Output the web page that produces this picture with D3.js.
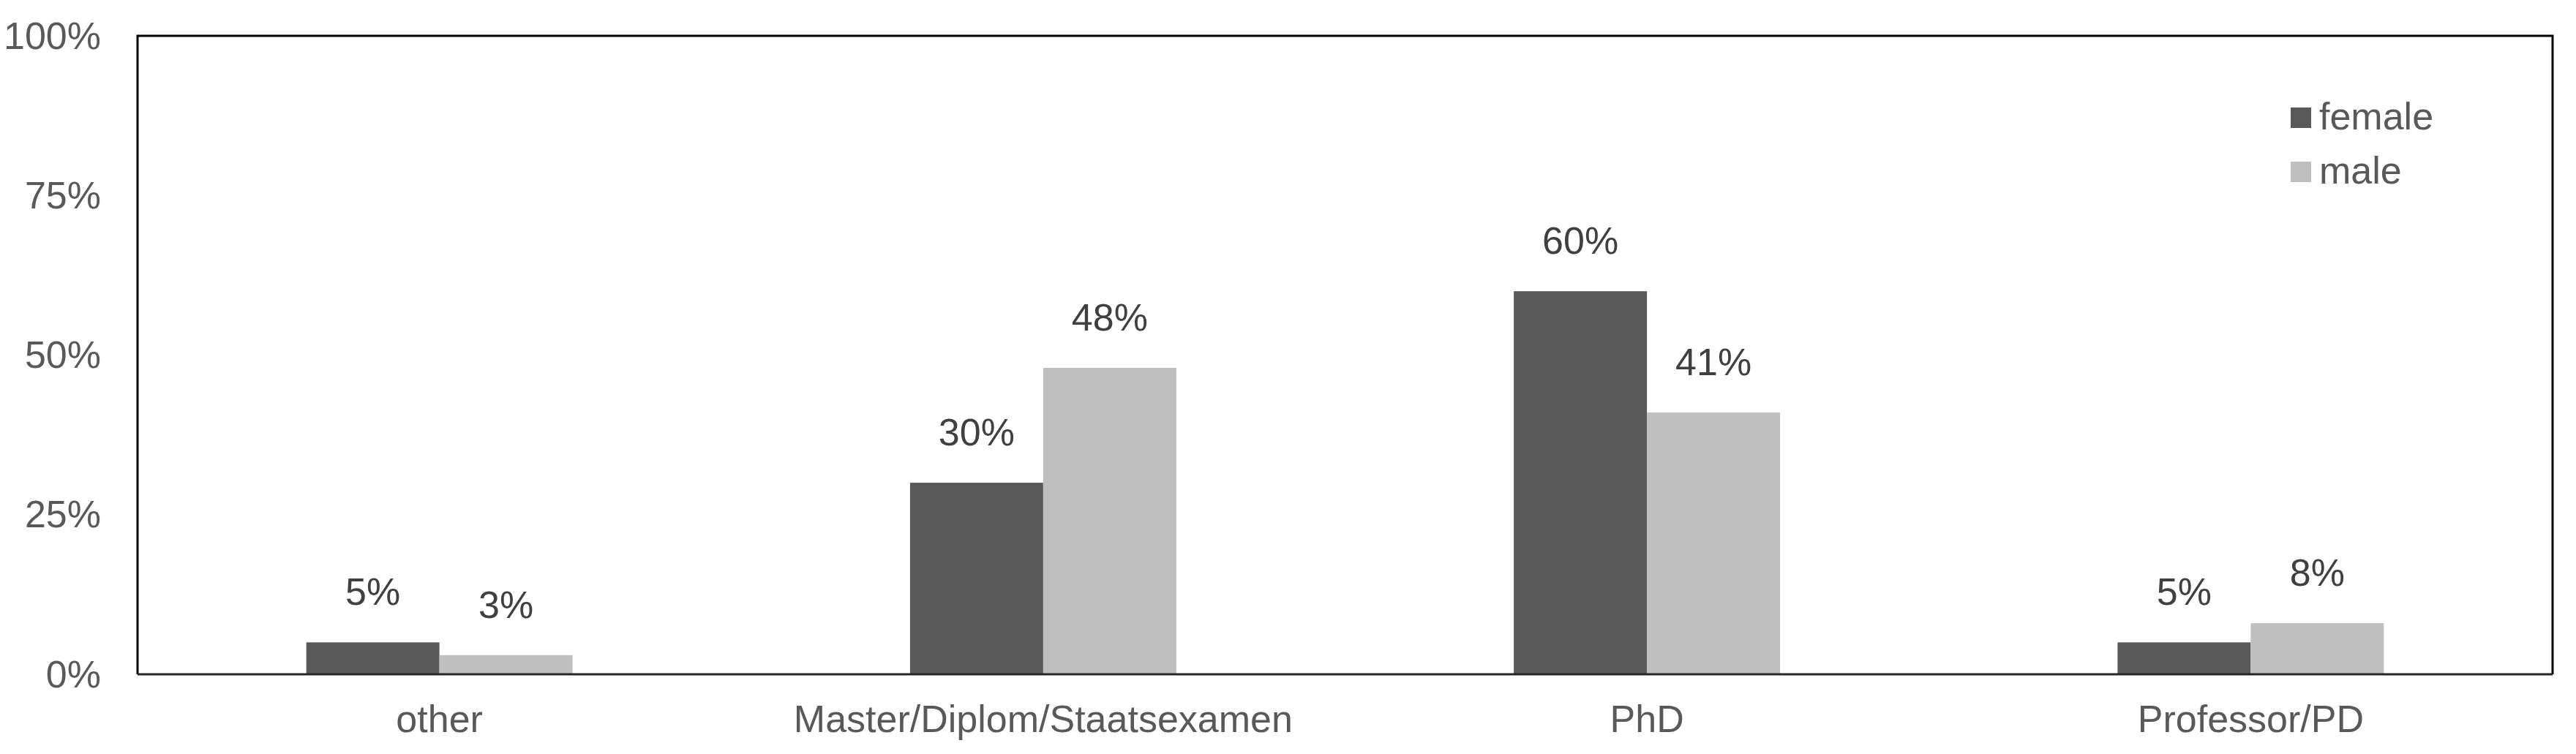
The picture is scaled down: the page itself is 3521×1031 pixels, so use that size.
<!DOCTYPE html>
<html>
<head>
<meta charset="utf-8">
<script src="https://cdn.jsdelivr.net/npm/d3@7"></script>
<style>
  body { margin: 0; background: #fff; }
  text { font-family: "Liberation Sans", Arial, sans-serif; }
</style>
</head>
<body>
<div id="chart"></div>
<script>
// data
const categories = ["other", "Master/Diplom/Staatsexamen", "PhD", "Professor/PD"];
const seriesNames = ["female", "male"];
const female = [0.05, 0.30, 0.60, 0.05];
const male = [0.03, 0.48, 0.41, 0.08];
const yTicks = [0, 0.25, 0.5, 0.75, 1];

const colors = { female: "#595959", male: "#bfbfbf" };

const W = 3521, H = 1031;
const margin = { top: 49, right: 32, bottom: 109, left: 188 };
const width = W - margin.left - margin.right,
      height = H - margin.top - margin.bottom;

const svg = d3.select("#chart")
  .append("svg")
    .attr("width", W)
    .attr("height", H);

const g = svg.append("g")
    .attr("transform", `translate(${margin.left},${margin.top})`);

const rows = categories.map((c, i) => ({ cat: c, female: female[i], male: male[i] }));

const x0 = d3.scaleBand()
  .domain(categories)
  .range([0, width])
  .padding(0);

// bars of a group take ~44% of the band
const groupW = x0.bandwidth() * 0.441;
const x1 = d3.scaleBand()
  .domain(seriesNames)
  .range([(x0.bandwidth() - groupW) / 2, (x0.bandwidth() + groupW) / 2]);

const y = d3.scaleLinear()
  .domain([0, 1])
  .range([height, 0]);

// y axis labels
const yAxis = g.append("g")
  .call(d3.axisLeft(y).tickValues(yTicks).tickFormat(d3.format(".0%")).tickSize(0).tickPadding(50));
yAxis.select(".domain").remove();
yAxis.selectAll("text")
  .attr("font-size", 52)
  .attr("fill", "#595959")
  .attr("dy", "0.33em")
  .style("font-family", "'Liberation Sans', Arial, sans-serif");

// x axis labels
const xAxis = g.append("g")
  .attr("transform", `translate(0,${height})`)
  .call(d3.axisBottom(x0).tickSize(0).tickPadding(42));
xAxis.select(".domain").remove();
xAxis.selectAll("text")
  .attr("font-size", 52)
  .attr("fill", "#595959")
  .attr("dy", "0.71em")
  .style("font-family", "'Liberation Sans', Arial, sans-serif");

// bars
const groups = g.selectAll(".grp")
  .data(rows)
  .join("g")
    .attr("class", "grp")
    .attr("transform", d => `translate(${x0(d.cat)},0)`);

groups.selectAll("rect")
  .data(d => seriesNames.map(s => ({ key: s, value: d[s] })))
  .join("rect")
    .attr("x", d => x1(d.key))
    .attr("y", d => y(d.value))
    .attr("width", x1.bandwidth())
    .attr("height", d => height - y(d.value))
    .attr("fill", d => colors[d.key]);

groups.selectAll(".lbl")
  .data(d => seriesNames.map(s => ({ key: s, value: d[s] })))
  .join("text")
    .attr("class", "lbl")
    .attr("x", d => x1(d.key) + x1.bandwidth() / 2)
    .attr("y", d => y(d.value) - 51)
    .attr("text-anchor", "middle")
    .attr("font-size", 52)
    .attr("fill", "#404040")
    .text(d => d3.format(".0%")(d.value));

// frame
g.append("path")
  .attr("d", `M0,${height}V0H${width}V${height}`)
  .attr("fill", "none")
  .attr("stroke", "#000")
  .attr("stroke-width", 3);
g.append("line")
  .attr("x1", 0).attr("x2", width)
  .attr("y1", height).attr("y2", height)
  .attr("stroke", "#262626")
  .attr("stroke-width", 3);

// legend
const legend = svg.append("g")
  .attr("transform", "translate(3131,147)");
const li = legend.selectAll("g")
  .data(seriesNames)
  .join("g")
    .attr("transform", (d, i) => `translate(0,${i * 74})`);
li.append("rect")
  .attr("width", 28).attr("height", 28)
  .attr("fill", d => colors[d]);
li.append("text")
  .attr("x", 39)
  .attr("y", 30)
  .attr("font-size", 52)
  .attr("fill", "#595959")
  .text(d => d);
</script>
</body>
</html>
